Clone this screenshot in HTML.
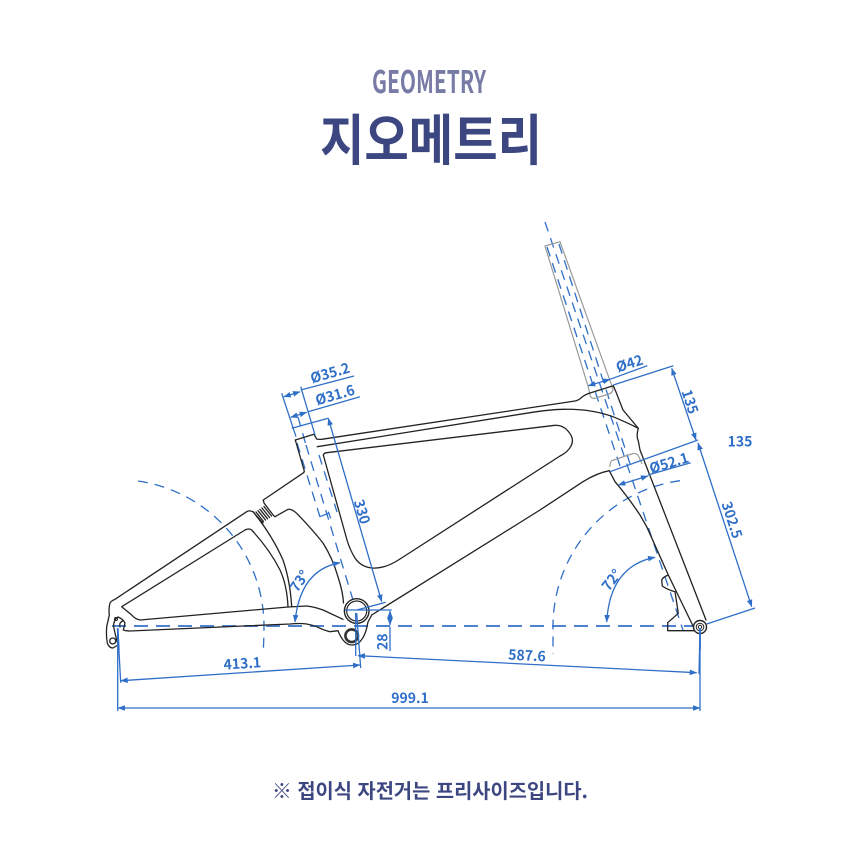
<!DOCTYPE html>
<html lang="ko">
<head>
<meta charset="utf-8">
<title>Geometry</title>
<style>
html,body{margin:0;padding:0;background:#fff;width:860px;height:864px;overflow:hidden}
svg{display:block}
text{font-family:"Liberation Sans","Noto Sans CJK KR",sans-serif}
.k{fill:none;stroke:#222;stroke-width:1.3;stroke-linejoin:round;stroke-linecap:round}
.g{fill:none;stroke:#9a9a9a;stroke-width:1.2}
.b{fill:none;stroke:#2f6fc8;stroke-width:1.3}
.a{marker-start:url(#m);marker-end:url(#m)}
.d{fill:none;stroke:#2f6fc8;stroke-width:1.3;stroke-dasharray:10 7}
.c{fill:none;stroke:#4f83d2;stroke-width:2;stroke-dasharray:14 8}
.t{fill:#2f6fc8;font-family:"Noto Sans CJK KR",sans-serif;font-weight:700;font-size:14px;text-anchor:middle;dominant-baseline:central}
</style>
</head>
<body>
<svg width="860" height="864" viewBox="0 0 860 864" xmlns="http://www.w3.org/2000/svg">
<defs>
<marker id="m" viewBox="0 0 8 6" refX="7.5" refY="3" markerWidth="7.5" markerHeight="6" markerUnits="userSpaceOnUse" orient="auto-start-reverse">
<path d="M0 0L8 3L0 6Z" fill="#2f6fc8"/>
</marker>
</defs>

<text x="372" y="93" font-size="31" font-weight="700" fill="#777ba5" textLength="114" lengthAdjust="spacingAndGlyphs" style="font-family:'Noto Sans CJK KR',sans-serif">GEOMETRY</text>
<text x="320" y="160" font-size="55" font-weight="700" fill="#3c4781" textLength="222" lengthAdjust="spacingAndGlyphs" style="font-family:'Noto Sans CJK KR',sans-serif">지오메트리</text>
<text x="430" y="798" font-size="20" font-weight="700" fill="#3c4781" text-anchor="middle" textLength="316" lengthAdjust="spacingAndGlyphs" style="font-family:'Noto Sans CJK KR',sans-serif">※ 접이식 자전거는 프리사이즈입니다.</text>

<!-- centre / hidden lines -->
<path class="c" d="M112 626H700"/>
<path class="d" d="M545 222L683 630"/>
<path class="d" d="M547 247L620 466"/>
<path class="d" d="M559 244L632 470"/>
<path class="d" d="M297 443L320 517"/>
<path class="d" d="M306 445L356 610"/>
<path class="d" d="M319 455L337 512"/>
<path class="d" d="M298 417L306 445"/>
<path class="d" d="M680 480.7A147 147 0 0 0 553 626V654"/>
<path class="d" d="M138 481A147 147 0 0 1 264 626Q264 640 263 654"/>

<!-- grey seatpost / stem -->
<path class="g" d="M545 246L560 241.700L611.700 385.500L613 390Q612 393 609 394L594 398.500Q591 398.500 590 395L588.300 387Z"/>
<path class="g" d="M610 467Q609.500 463 612 460.500L633 453.500Q637 453 639 457L642 464"/>

<!-- frame -->
<path class="k" d="M295.300 440L314 434.300L316.700 439Q318 439.500 321.700 439.300L575 401Q578 400.500 581 398Q584 395 590 393L613.300 385.700L616 392L623 410L638.300 428.300Q636 436 638.300 441L640 450L706 620"/>
<path class="k" d="M317.300 446.700L530 412.700Q550 409.500 563 409.300Q590 408.500 613 416.700Q628 423 638.300 428.300"/>
<path class="k" d="M323.300 455Q324 453 326.700 452.700L555 425.300Q563 425 568 431Q575 439 571 446Q568 452 560 456L400 559Q385 569 372 568Q361 567 355 558Q350 550 347 540L323.300 455Z"/>
<path class="k" d="M371.700 615L540 510L583 481.700Q597 473 609.300 470.700L615 481.700Q628 497 640 515L646.700 526.700L668.300 575L694 628"/>
<path class="k" d="M668.300 575Q663 577 661.700 580L662.300 586Q668 590 675 591.700L678.300 613.300L667.700 622.700V630.700H695"/>
<path class="k" d="M295.300 440L304 470Q305 472 302.700 473.300L263.300 500"/>
<path class="k" d="M273.500 515.500L275 516.700L288 509.300Q292 509 296.700 513.300Q312 529 323 543Q333 559 338 577Q343 592 343.500 603"/>
<path class="k" d="M263.300 500L264 503L273.500 515.500M263 523L253 511.700Q249 510 246.700 511.700L115 599.300Q111 601 110 603Q108.500 608 109.300 615L106.700 626.700Q106 636 107.300 643Q109 648 113 648L118 645L115 633L113.500 626Q114 619 118 617Q123 619 125 623L123.300 630Q126 631 130 631L290 624Q300 623 306.700 624Q312 625 316.700 626.700Q323 630 330 631.700L338 630.700Q340 636 343 640Q347 645 351.700 645Q357 645 360 641.700Q365 636 366.700 628L368 622L371.700 615"/>
<path class="k" d="M121.700 606.700L245 530Q249 528 251.700 530Q270 550 280 570Q287 585 288 607L140 620Q135 619 131.700 615Z"/>
<path class="k" d="M253 511.700Q272 535 283 560Q290 580 291.700 606.700"/>
<path class="k" d="M288 607L306.700 606Q315 607 323 610L343 619.300"/>
<g class="k">
<path d="M256 512L263.500 521.500M258 510.700L265.500 520M260 509.300L267.500 518.800M262 508L269.500 517.500M264 506.500L271.500 516"/>
</g>
<circle class="k" cx="112.700" cy="641" r="3"/>
<circle class="k" cx="116" cy="619" r="1.500" style="stroke-width:1"/>
<path class="k" d="M123 621Q119 622 120 627" style="stroke-width:1.200"/>
<circle cx="356.700" cy="611" r="12.300" fill="#fff" stroke="#222" stroke-width="1.400"/>
<circle cx="356.700" cy="611" r="10" fill="none" stroke="#222" stroke-width="1.200"/>
<circle cx="351.700" cy="635.700" r="6.300" fill="#fff" stroke="#333" stroke-width="2.600"/>
<circle cx="700" cy="627" r="6.500" fill="#fff" stroke="#222" stroke-width="1.400"/>
<circle cx="700" cy="627" r="3.800" fill="none" stroke="#222" stroke-width="1"/>
<circle cx="700" cy="627" r="1.700" fill="none" stroke="#222" stroke-width="1"/>

<!-- dimension lines: seat tube -->
<path class="b" d="M281.700 393.300L296 436.700M300.700 386.700L315 435M300.700 390L354 376M308 411.700L360 396.700M291.700 428.300L328.300 418.300"/>
<path class="b a" d="M283.800 396.700L300 391.800"/>
<path class="b a" d="M290.700 417.300L306.700 412.300"/>
<path class="b a" d="M328.300 418.300L381.700 601.700"/>
<path class="b" d="M320 516.700L328.300 513.300M328.300 511.700L330.700 518.300"/>
<text class="t" transform="translate(330 373) rotate(-16)">Ø35.2</text>
<text class="t" transform="translate(335 395) rotate(-16)">Ø31.6</text>
<text class="t" transform="translate(362 511.700) rotate(73)">330</text>

<!-- BB -->
<path class="b" d="M345 610H391.700M356.700 610L385.700 602.300M390 626.700V651"/>
<path class="b a" d="M390 611L390 625"/>
<text class="t" transform="translate(382.500 641.700) rotate(-90)">28</text>

<!-- head tube -->
<path class="b" d="M613.300 385L673.300 365.700M610 379.300L647.300 365.700"/>
<path class="b a" d="M588.300 385.700L610 379.300"/>
<path class="b a" d="M671.700 368.300L696 440"/>
<path class="b" d="M610 471.700L698 440"/>
<path class="b" d="M648 475L690.700 462.700"/>
<path class="b a" d="M618.300 485L648 476"/>
<path class="b a" d="M698 443L751.700 606.700"/>
<path class="b" d="M706.700 624L755 608"/>
<text class="t" transform="translate(629.500 363.500) rotate(-18)">Ø42</text>
<text class="t" transform="translate(690 401.700) rotate(72)">135</text>
<text class="t" x="740" y="441.500">135</text>
<text class="t" transform="translate(669 463) rotate(-17)">Ø52.1</text>
<text class="t" transform="translate(732 520) rotate(72)">302.5</text>

<!-- angles -->
<path class="b a" d="M295 622Q300 570 340 562.700"/>
<path class="b a" d="M606.700 622Q610 566 655 557.300"/>
<text class="t" transform="translate(299.500 581) rotate(-55)">73°</text>
<text class="t" transform="translate(611.700 580) rotate(-52)">72°</text>

<!-- bottom dims -->
<path class="b" d="M117.700 628L120.700 682.700M117.700 628V711M356.700 613L360.700 668M355.700 613V656M700 628L699 674M700 628V711"/>
<path class="b" style="stroke-width:1.800" d="M117.700 628L118.800 650M700 628V650"/>
<path class="b a" d="M120.700 680.700L360 665"/>
<path class="b a" d="M358 655.700L696.700 672.700"/>
<path class="b a" d="M118 708H700"/>
<text class="t" transform="translate(242.300 663.500) rotate(-3.700)">413.1</text>
<text class="t" transform="translate(527 655.500) rotate(2.900)">587.6</text>
<text class="t" x="410" y="698">999.1</text>
</svg>
</body>
</html>
